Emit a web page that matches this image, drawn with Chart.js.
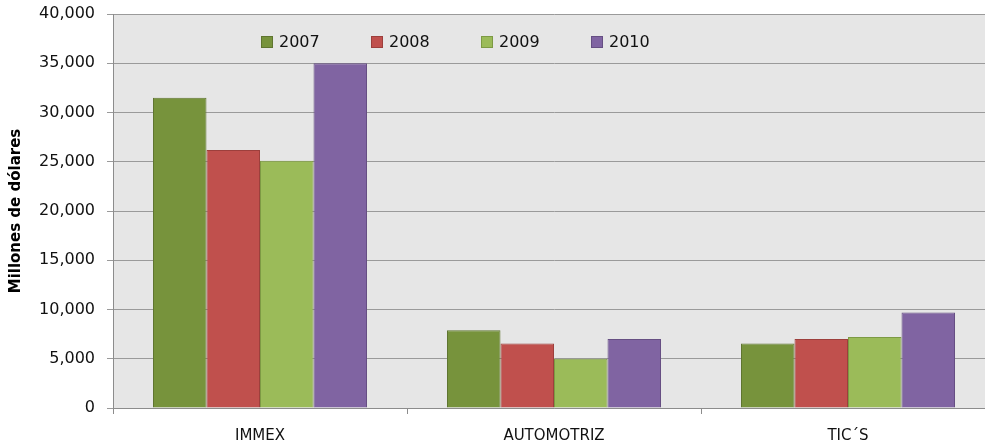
<!DOCTYPE html>
<html>
<head>
<meta charset="utf-8">
<script src="https://cdn.jsdelivr.net/npm/chart.js@4"></script>
<style>
  html, body { margin: 0; padding: 0; background: #fff; overflow: hidden; }
  #wrap { width: 997px; height: 444px; }
</style>
</head>
<body>
<div id="wrap"><canvas id="barChart" width="997" height="444"></canvas></div>
<script>
(function () {
    var categories = ['IMMEX', 'AUTOMOTRIZ', 'TIC´S'];
    var years = ['2007', '2008', '2009', '2010'];
    var values2007 = [31500, 7900, 6550];
    var values2008 = [26200, 6550, 7000];
    var values2009 = [25100, 5000, 7200];
    var values2010 = [35000, 7000, 9700];
    var yTicks = [0, 5000, 10000, 15000, 20000, 25000, 30000, 35000, 40000];

    var fills = ['#77933c', '#c0504d', '#9bbb59', '#8064a2'];
    var borders = ['#5f7530', '#9d3f3c', '#7d9a44', '#664f83'];
    var series = [values2007, values2008, values2009, values2010];

    var fontFamily = '"DejaVu Sans", sans-serif';

    // grey plot background behind the bars
    var plotBackground = {
        id: 'plotBackground',
        beforeDraw: function (chart) {
            var a = chart.chartArea, ctx = chart.ctx;
            ctx.save();
            ctx.fillStyle = '#e6e6e6';
            ctx.fillRect(a.left, a.top, a.right - a.left, a.bottom - a.top);
            ctx.restore();
        }
    };

    // legend sits inside the plot, left of centre
    var innerLegend = {
        id: 'innerLegend',
        afterDraw: function (chart) {
            var ctx = chart.ctx;
            ctx.save();
            ctx.font = '16px ' + fontFamily;
            ctx.textBaseline = 'middle';
            chart.data.datasets.forEach(function (ds, i) {
                var x = 261 + i * 110, y = 42;
                ctx.fillStyle = ds.backgroundColor;
                ctx.fillRect(x, y - 6, 12, 12);
                ctx.strokeStyle = ds.borderColor;
                ctx.lineWidth = 1;
                ctx.strokeRect(x + 0.5, y - 5.5, 11, 11);
                ctx.fillStyle = '#111';
                ctx.fillText(ds.label, x + 18, y + 1);
            });
            ctx.restore();
        }
    };

    var ctx = document.getElementById('barChart').getContext('2d');
    new Chart(ctx, {
        type: 'bar',
        data: {
            labels: categories,
            datasets: years.map(function (yr, i) {
                return {
                    label: yr,
                    data: series[i],
                    backgroundColor: fills[i],
                    borderColor: borders[i],
                    borderWidth: 1,
                    borderSkipped: 'bottom',
                    barPercentage: 1,
                    categoryPercentage: 0.728
                };
            })
        },
        options: {
            responsive: false,
            animation: false,
            layout: { padding: { top: 14, right: 2, bottom: 0, left: 0 } },
            plugins: {
                legend: { display: false },
                tooltip: { enabled: false }
            },
            scales: {
                x: {
                    offset: true,
                    grid: {
                        offset: true,
                        drawOnChartArea: false,
                        drawTicks: true,
                        tickLength: 6,
                        color: '#8c8c8c'
                    },
                    border: { color: '#8c8c8c' },
                    ticks: {
                        color: '#111',
                        padding: 13,
                        font: { family: fontFamily, size: 15 }
                    },
                    afterFit: function (scale) {
                        scale.height = 36;
                        scale.paddingLeft = 0;
                        scale.paddingRight = 0;
                    }
                },
                y: {
                    min: 0,
                    max: 40000,
                    afterBuildTicks: function (scale) {
                        scale.ticks = yTicks.map(function (v) { return { value: v }; });
                    },
                    grid: {
                        color: '#9a9a9a',
                        drawTicks: true,
                        tickLength: 6
                    },
                    border: { color: '#8c8c8c' },
                    ticks: {
                        color: '#111',
                        padding: 12,
                        font: { family: fontFamily, size: 16 },
                        callback: function (v) { return v.toLocaleString('en-US'); }
                    },
                    title: {
                        display: true,
                        text: 'Millones de dólares',
                        color: '#000',
                        padding: { top: 7, bottom: 0 },
                        font: { family: fontFamily, size: 15, weight: 'bold' }
                    },
                    afterFit: function (scale) {
                        scale.width = 113;
                        scale.paddingTop = 0;
                        scale.paddingBottom = 0;
                    }
                }
            }
        },
        plugins: [plotBackground, innerLegend]
    });
})();
</script>
</body>
</html>
